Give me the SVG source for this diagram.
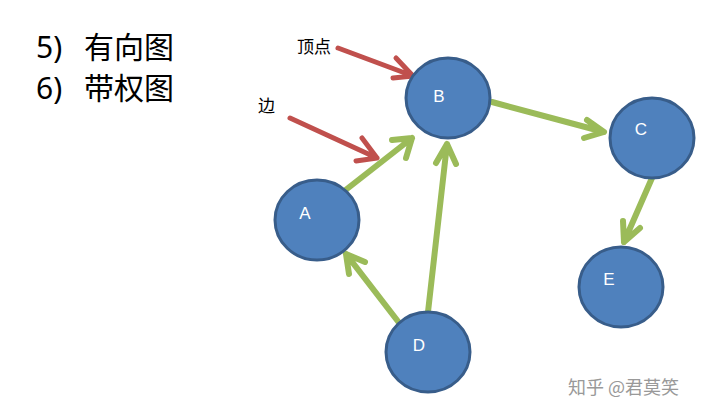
<svg xmlns="http://www.w3.org/2000/svg" width="720" height="418" viewBox="0 0 720 418">
<style>
.n{fill:#4f81bd;stroke:#385d8a;stroke-width:3}
.l{fill:#fff;font:17px "Liberation Sans",sans-serif;text-anchor:middle}
.g{stroke:#9bbb59;stroke-width:6;fill:none;stroke-linecap:round;stroke-linejoin:round}
.r{stroke:#c0504d;stroke-width:5;fill:none;stroke-linecap:round;stroke-linejoin:round}
.t{font-family:"Noto Sans","Noto Sans CJK SC",sans-serif;font-size:30px;fill:#000}
.s{font-family:"Liberation Serif","Noto Sans CJK SC",serif;font-size:17px;fill:#000}
</style>
<rect width="720" height="418" fill="#fff"/>
<text class="t" x="36" y="58">5)</text><text class="t" x="84" y="58">有向图</text>
<text class="t" x="36" y="99">6)</text><text class="t" x="84" y="99">带权图</text>
<text class="s" x="297" y="53">顶点</text>
<text class="s" x="258" y="112">边</text>
<g id="connectors">
<path class="g" d="M343,192 L412,138 M392,140 L412,138 L406,158"/>
<path class="g" d="M428,312 L447,144 M436,163 L447,144 L456,164"/>
<path class="g" d="M492,102 L604,132 M587,120 L604,132 L584,138"/>
<path class="g" d="M652,178 L624,242 M623,221 L624,242 L640,228"/>
<path class="g" d="M400,324 L346,254 M349,274 L346,254 L365,262"/>
<path class="r" d="M338,48 L413,76 M396,58 L413,76 L393,78"/>
<path class="r" d="M290,118 L377,158 M362,138 L377,158 L356,161"/>
</g>
<g id="B"><ellipse class="n" cx="448" cy="98" rx="42" ry="40"/><text class="l" x="439" y="102">B</text></g>
<g id="C"><ellipse class="n" cx="652" cy="138" rx="42" ry="40"/><text class="l" x="641" y="135">C</text></g>
<g id="A"><ellipse class="n" cx="317" cy="220" rx="42" ry="40"/><text class="l" x="305" y="219">A</text></g>
<g id="E"><ellipse class="n" cx="621" cy="287" rx="42" ry="40"/><text class="l" x="609" y="285">E</text></g>
<g id="D"><ellipse class="n" cx="428" cy="352" rx="42" ry="40"/><text class="l" x="419" y="351">D</text></g>
<text x="568" y="394" font-family="Noto Sans CJK SC,sans-serif" font-size="18" fill="#999">知乎 @君莫笑</text>
</svg>
